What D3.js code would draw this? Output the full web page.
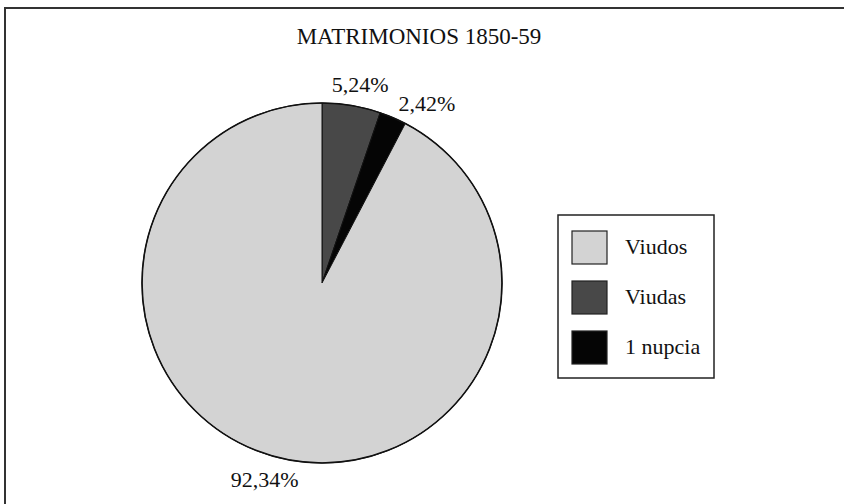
<!DOCTYPE html>
<html lang="es">
<head>
<meta charset="UTF-8">
<title>Matrimonios 1850-59</title>
<script src="https://cdn.jsdelivr.net/npm/d3@7"></script>
<style>
  body { margin: 0; background: #fff; }
</style>
</head>
<body>
<div id="chart"></div>
<script>
// chart data
const categories = ['Viudas', '1 nupcia', 'Viudos'];   // clockwise from 12 o'clock
const values = [5.24, 2.42, 92.34];
const valueLabels = ['5,24%', '2,42%', '92,34%'];
const legendOrder = ['Viudos', 'Viudas', '1 nupcia'];
const title = 'MATRIMONIOS 1850-59';

const width = 844, height = 504;
const cx = 322, cy = 283, radius = 180;
const serif = '"Liberation Serif", "Times New Roman", Tinos, "DejaVu Serif", serif';

const color = d3.scaleOrdinal()
    .domain(['Viudos', 'Viudas', '1 nupcia'])
    .range(['#d3d3d3', '#484848', '#050505']);

const svg = d3.select('#chart').append('svg')
    .attr('width', width)
    .attr('height', height)
    .style('font-family', serif);

// frame (left and top edges only visible in the scan)
svg.append('path')
    .attr('d', `M5,${height} V8 H${width}`)
    .attr('fill', 'none')
    .attr('stroke', '#333')
    .attr('stroke-width', 2);

svg.append('text')
    .attr('x', 419)
    .attr('y', 44)
    .attr('text-anchor', 'middle')
    .attr('font-family', serif)
    .style('font-size', '23px')
    .attr('fill', '#111')
    .text(title);

const data = categories.map((c, i) => ({ name: c, value: values[i], label: valueLabels[i] }));

const pie = d3.pie().sort(null).value(d => d.value);
const arc = d3.arc().innerRadius(0).outerRadius(radius);
const arcs = pie(data);

const g = svg.append('g').attr('transform', `translate(${cx},${cy})`);

g.selectAll('path.slice')
    .data(arcs)
    .join('path')
    .attr('class', 'slice')
    .attr('d', arc)
    .attr('fill', d => color(d.data.name))
    .attr('stroke', '#111')
    .attr('stroke-width', 1);

g.append('circle')
    .attr('r', radius)
    .attr('fill', 'none')
    .attr('stroke', '#111')
    .attr('stroke-width', 1.6);

// value labels: box just outside the slice's mid angle,
// nudged along the rim if it runs into the previous one
const labelR = radius + 13;
const glyphH = 18;
let prev = null;
g.selectAll('text.val')
    .data(arcs)
    .join('text')
    .attr('class', 'val')
    .attr('font-family', serif)
    .style('font-size', '22px')
    .attr('fill', '#111')
    .attr('text-anchor', 'middle')
    .text(d => d.data.label)
    .each(function(d) {
        const a = (d.startAngle + d.endAngle) / 2;
        const s = Math.sin(a), c = Math.cos(a);
        const w = this.getComputedTextLength();
        let x = labelR * s + s * w * 0.7;
        let y = -labelR * c - c * glyphH / 2;
        if (prev && Math.abs(y - prev.y) < glyphH && x - w / 2 < prev.x + prev.w / 2 + 10) {
            const shift = (prev.x + prev.w / 2 + 10) - (x - w / 2);
            const t = shift / c;
            x += c * t;
            y += s * t;
        }
        prev = { x, y, w };
        d3.select(this).attr('x', x).attr('y', y + 8);
    });

// legend
const lg = svg.append('g').attr('transform', 'translate(558,215)');
lg.append('rect')
    .attr('width', 156)
    .attr('height', 163)
    .attr('fill', '#fff')
    .attr('stroke', '#222')
    .attr('stroke-width', 1.5);

const items = lg.selectAll('g.item')
    .data(legendOrder)
    .join('g')
    .attr('class', 'item')
    .attr('transform', (d, i) => `translate(14,${16 + i * 50})`);

items.append('rect')
    .attr('width', 35)
    .attr('height', 33)
    .attr('fill', d => color(d))
    .attr('stroke', '#222')
    .attr('stroke-width', 1.2);

items.append('text')
    .attr('x', 53)
    .attr('y', 23)
    .attr('font-family', serif)
    .style('font-size', '22px')
    .attr('fill', '#111')
    .text(d => d);
</script>
</body>
</html>
